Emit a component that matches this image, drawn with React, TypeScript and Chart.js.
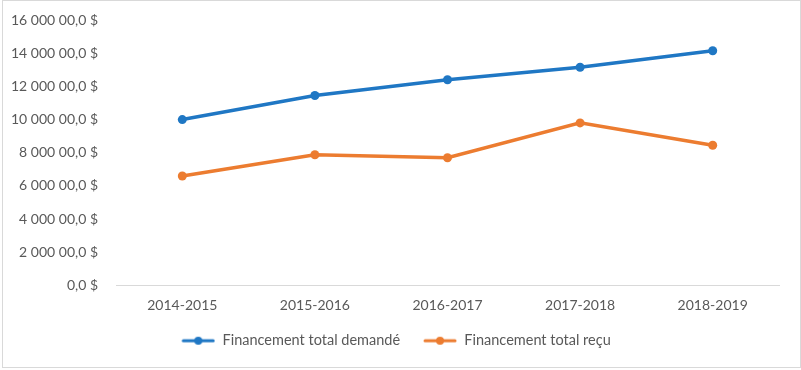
import React, { useEffect, useRef } from "react";
import { Chart, registerables } from "chart.js";

Chart.register(...registerables);

const categories = ["2014-2015", "2015-2016", "2016-2017", "2017-2018", "2018-2019"];
const seriesNames = ["Financement total demandé", "Financement total reçu"];
const demande = [10000, 11450, 12400, 13150, 14150];
const recu = [6600, 7880, 7700, 9800, 8450];
const yTicks = [0, 2000, 4000, 6000, 8000, 10000, 12000, 14000, 16000];
const yTickLabels = [
  "0,0 $",
  "2 000 00,0 $",
  "4 000 00,0 $",
  "6 000 00,0 $",
  "8 000 00,0 $",
  "10 000 00,0 $",
  "12 000 00,0 $",
  "14 000 00,0 $",
  "16 000 00,0 $",
];

const BLUE = "#1f77c4";
const ORANGE = "#ec7c30";
const TEXT = "#595959";
const FONT = "Lato, 'Liberation Sans', sans-serif";
const LEAD = 13;
const ICON_W = 34 + LEAD;

function legendIcon(color: string) {
  const c = document.createElement("canvas");
  c.width = ICON_W;
  c.height = 10;
  const ctx = c.getContext("2d")!;
  const x0 = LEAD;
  ctx.strokeStyle = color;
  ctx.lineWidth = 3;
  ctx.lineCap = "round";
  ctx.beginPath();
  ctx.moveTo(x0 + 2, 5);
  ctx.lineTo(x0 + 32, 5);
  ctx.stroke();
  ctx.fillStyle = color;
  ctx.beginPath();
  ctx.arc(x0 + 17, 5, 4, 0, Math.PI * 2);
  ctx.fill();
  return c;
}

export default function App() {
  const ref = useRef<HTMLCanvasElement | null>(null);
  useEffect(() => {
    if (!ref.current) return;
    const icons = [legendIcon(BLUE), legendIcon(ORANGE)];
    const chart = new Chart(ref.current, {
      type: "line",
      data: {
        labels: categories,
        datasets: [
          {
            label: seriesNames[0],
            data: demande,
            borderColor: BLUE,
            backgroundColor: BLUE,
            borderWidth: 3.5,
            pointRadius: 4.5,
            pointHoverRadius: 4.5,
            pointBackgroundColor: BLUE,
            pointBorderWidth: 0,
          },
          {
            label: seriesNames[1],
            data: recu,
            borderColor: ORANGE,
            backgroundColor: ORANGE,
            borderWidth: 3.5,
            pointRadius: 4.5,
            pointHoverRadius: 4.5,
            pointBackgroundColor: ORANGE,
            pointBorderWidth: 0,
          },
        ],
      },
      options: {
        animation: false,
        responsive: false,
        maintainAspectRatio: false,
        layout: { padding: { top: 20, right: 22, left: 0, bottom: 12 } },
        scales: {
          x: {
            offset: true,
            afterFit: (s: any) => {
              s.height = 38;
              s.paddingLeft = 0;
              s.paddingRight = 0;
            },
            grid: { display: false, drawTicks: false, offset: true },
            border: { display: true, color: "#d9d9d9", width: 1 },
            ticks: {
              color: TEXT,
              font: { family: FONT, size: 14 },
              padding: 12,
              maxRotation: 0,
            },
          },
          y: {
            min: 0,
            max: 16000,
            afterFit: (s: any) => {
              s.width = 116;
              s.paddingTop = 0;
              s.paddingBottom = 0;
            },
            afterBuildTicks: (s: any) => {
              s.ticks = yTicks.map((v) => ({ value: v }));
            },
            grid: { display: false, drawTicks: false },
            border: { display: false },
            ticks: {
              color: TEXT,
              font: { family: FONT, size: 14 },
              padding: 18,
              callback: (v: any) => {
                const i = yTicks.indexOf(Number(v));
                return i >= 0 ? yTickLabels[i] : "";
              },
            },
          },
        },
        plugins: {
          tooltip: { enabled: false },
          legend: {
            position: "bottom",
            labels: {
              color: TEXT,
              font: { family: FONT, size: 14.5 },
              usePointStyle: true,
              pointStyleWidth: ICON_W,
              padding: 10,
              generateLabels: (ch: any) =>
                ch.data.datasets.map((d: any, i: number) => ({
                  text: d.label,
                  fillStyle: d.borderColor,
                  strokeStyle: d.borderColor,
                  lineWidth: 0,
                  pointStyle: icons[i],
                  datasetIndex: i,
                  hidden: false,
                  fontColor: TEXT,
                })),
            },
          },
        },
      },
    });
    return () => chart.destroy();
  }, []);
  return (
    <div style={{ position: "fixed", left: 0, top: 0, width: 801, height: 370, background: "#fff" }}>
      <div
        style={{
          position: "absolute",
          left: 2,
          top: 0,
          width: 797,
          height: 366,
          border: "1px solid #d9d9d9",
        }}
      />
      <canvas ref={ref} width={801} height={370} style={{ position: "absolute", left: 0, top: 0 }} />
    </div>
  );
}
